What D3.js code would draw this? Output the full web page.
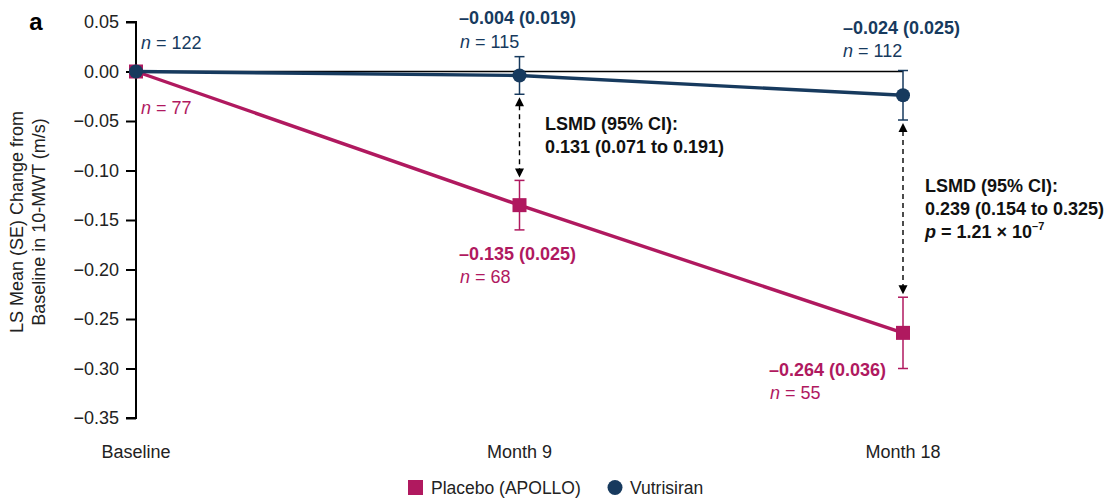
<!DOCTYPE html>
<html>
<head>
<meta charset="utf-8">
<script src="https://cdn.jsdelivr.net/npm/d3@7"></script>
<style>
  html, body { margin: 0; padding: 0; background: #fff; }
  svg { display: block; font-family: "Liberation Sans", Arial, sans-serif; }
</style>
</head>
<body>
<svg id="chart" width="1112" height="502"></svg>
<script>
// Time points on the x axis
const visits = ["Baseline", "Month 9", "Month 18"];

// LS mean change from baseline in 10-MWT (m/s) and its SE
const placeboMean = [0, -0.135, -0.264];
const placeboSE = [0, 0.025, 0.036];
const placeboN = [77, 68, 55];

const vutrisiranMean = [0, -0.004, -0.024];
const vutrisiranSE = [0, 0.019, 0.025];
const vutrisiranN = [122, 115, 112];

// y-axis ticks
const yTicks = [0.05, 0.00, -0.05, -0.10, -0.15, -0.20, -0.25, -0.30, -0.35];

// Between-group differences shown at Month 9 and Month 18
const lsmdVisits = ["Month 9", "Month 18"];
const lsmdText = [
  ["LSMD (95% CI):", "0.131 (0.071 to 0.191)"],
  ["LSMD (95% CI):", "0.239 (0.154 to 0.325)"]
];

const NAVY = "#173a5e";
const MAGENTA = "#b0195f";
const FS = 18;

const svg = d3.select("#chart");

const x = d3.scalePoint().domain(visits).range([136, 903]).padding(0);
const y = d3.scaleLinear().domain([-0.35, 0.05]).range([418, 22]);

const fmtTick = v => (v < 0 ? "\u2212" : "") + Math.abs(v).toFixed(2);
const fmtVal = v => (v < 0 ? "\u2013" : "") + Math.abs(v).toFixed(3);

// Panel letter
svg.append("text").attr("x", 36).attr("y", 30)
  .attr("font-size", 24).attr("font-weight", "bold").attr("text-anchor", "middle")
  .text("a");

// Zero reference line
svg.append("line")
  .attr("x1", x("Baseline")).attr("x2", x("Month 18"))
  .attr("y1", y(0)).attr("y2", y(0))
  .attr("stroke", "#000").attr("stroke-width", 1.3);

// y axis
const yAxis = d3.axisLeft(y).tickValues(yTicks).tickFormat(fmtTick).tickSize(10).tickPadding(7);
const gy = svg.append("g").attr("transform", `translate(${x("Baseline")},0)`).call(yAxis);
gy.select(".domain").attr("stroke-width", 2).attr("d", `M-10,${y(0.05)}H0V${y(-0.35)}H-10`);
gy.selectAll(".tick line").attr("stroke-width", 2);
gy.selectAll(".tick text").attr("font-size", FS).attr("fill", "#222")
  .attr("font-family", "Liberation Sans, Arial, sans-serif");

// y-axis title
const yTitle = svg.append("text")
  .attr("transform", "translate(23,222) rotate(-90)")
  .attr("text-anchor", "middle").attr("font-size", FS).attr("fill", "#222");
yTitle.append("tspan").attr("x", 0).attr("dy", 0).text("LS Mean (SE) Change from");
yTitle.append("tspan").attr("x", 0).attr("dy", 22).text("Baseline in 10-MWT (m/s)");

// x category labels
svg.selectAll("text.xlab").data(visits).enter().append("text")
  .attr("class", "xlab")
  .attr("x", d => x(d)).attr("y", 458)
  .attr("text-anchor", "middle").attr("font-size", FS).attr("fill", "#222")
  .text(d => d);

// Build a series record
function series(mean, se, n) {
  return visits.map((v, i) => ({ visit: v, mean: mean[i], se: se[i], n: n[i] }));
}
const placebo = series(placeboMean, placeboSE, placeboN);
const vutrisiran = series(vutrisiranMean, vutrisiranSE, vutrisiranN);

const line = d3.line().x(d => x(d.visit)).y(d => y(d.mean));

function drawSeries(data, color) {
  const g = svg.append("g");
  g.append("path").datum(data).attr("d", line)
    .attr("fill", "none").attr("stroke", color).attr("stroke-width", 3.4);
  const eb = g.selectAll("g.eb").data(data.filter(d => d.se > 0)).enter().append("g");
  eb.append("line")
    .attr("x1", d => x(d.visit)).attr("x2", d => x(d.visit))
    .attr("y1", d => y(d.mean + d.se)).attr("y2", d => y(d.mean - d.se))
    .attr("stroke", color).attr("stroke-width", 1.5);
  [1, -1].forEach(s => {
    eb.append("line")
      .attr("x1", d => x(d.visit) - 5).attr("x2", d => x(d.visit) + 5)
      .attr("y1", d => y(d.mean + s * d.se)).attr("y2", d => y(d.mean + s * d.se))
      .attr("stroke", color).attr("stroke-width", 1.5);
  });
  return g;
}

const gP = drawSeries(placebo, MAGENTA);
gP.selectAll("rect.pt").data(placebo).enter().append("rect")
  .attr("x", d => x(d.visit) - 7).attr("y", d => y(d.mean) - 7)
  .attr("width", 14).attr("height", 14).attr("fill", MAGENTA);

const gV = drawSeries(vutrisiran, NAVY);
gV.selectAll("circle.pt").data(vutrisiran).enter().append("circle")
  .attr("cx", d => x(d.visit)).attr("cy", d => y(d.mean))
  .attr("r", 7).attr("fill", NAVY);

// Value / n labels
function nLabel(xp, yp, n, color) {
  const t = svg.append("text").attr("x", xp).attr("y", yp)
    .attr("font-size", FS).attr("fill", color);
  t.append("tspan").attr("font-style", "italic").text("n");
  t.append("tspan").text(" = " + n);
}
function valLabel(xp, yp, d, color) {
  svg.append("text").attr("x", xp).attr("y", yp)
    .attr("font-size", FS).attr("font-weight", "bold").attr("fill", color)
    .text(`${fmtVal(d.mean)} (${d.se.toFixed(3)})`);
}

// Baseline n
nLabel(141, 49, vutrisiran[0].n, NAVY);
nLabel(141, 114, placebo[0].n, MAGENTA);

// Month 9
valLabel(459, 24, vutrisiran[1], NAVY);
nLabel(460, 48, vutrisiran[1].n, NAVY);
valLabel(459, 260, placebo[1], MAGENTA);
nLabel(460, 283, placebo[1].n, MAGENTA);

// Month 18
valLabel(843, 34, vutrisiran[2], NAVY);
nLabel(843, 57, vutrisiran[2].n, NAVY);
valLabel(769, 376, placebo[2], MAGENTA);
nLabel(770, 399, placebo[2].n, MAGENTA);

// Dashed double-headed arrows between groups
lsmdVisits.forEach(v => {
  const i = visits.indexOf(v);
  const xp = x(v);
  const top = y(vutrisiran[i].mean - vutrisiran[i].se) + 3;
  const bot = y(placebo[i].mean + placebo[i].se) - 3;
  const g = svg.append("g");
  g.append("line").attr("x1", xp).attr("x2", xp)
    .attr("y1", top + 8).attr("y2", bot - 8)
    .attr("stroke", "#000").attr("stroke-width", 1.4).attr("stroke-dasharray", "5,4");
  g.append("path").attr("d", `M${xp},${top}L${xp - 4.5},${top + 9}L${xp + 4.5},${top + 9}Z`).attr("fill", "#000");
  g.append("path").attr("d", `M${xp},${bot}L${xp - 4.5},${bot - 9}L${xp + 4.5},${bot - 9}Z`).attr("fill", "#000");
});

// LSMD annotations
function lsmd(xp, yp, lines, withP) {
  const t = svg.append("text").attr("x", xp).attr("y", yp)
    .attr("font-size", FS).attr("font-weight", "bold").attr("fill", "#111");
  lines.forEach((l, k) => t.append("tspan").attr("x", xp).attr("dy", k === 0 ? 0 : 23).text(l));
  if (withP) {
    const p = t.append("tspan").attr("x", xp).attr("dy", 23);
    p.append("tspan").attr("font-style", "italic").text("p");
    p.append("tspan").text(" = 1.21 \u00d7 10");
    t.append("tspan").attr("dy", -8).attr("font-size", 11).text("\u20137");
  }
}
lsmd(545, 130, lsmdText[0], false);
lsmd(925, 192, lsmdText[1], true);

// Legend
const lg = svg.append("g");
lg.append("rect").attr("x", 408).attr("y", 480).attr("width", 15).attr("height", 15).attr("fill", MAGENTA);
lg.append("text").attr("x", 431).attr("y", 494).attr("font-size", 17.5).attr("fill", "#222").text("Placebo (APOLLO)");
lg.append("circle").attr("cx", 615).attr("cy", 487.5).attr("r", 7.5).attr("fill", NAVY);
lg.append("text").attr("x", 630).attr("y", 494).attr("font-size", 17.5).attr("fill", "#222").text("Vutrisiran");
</script>
</body>
</html>
